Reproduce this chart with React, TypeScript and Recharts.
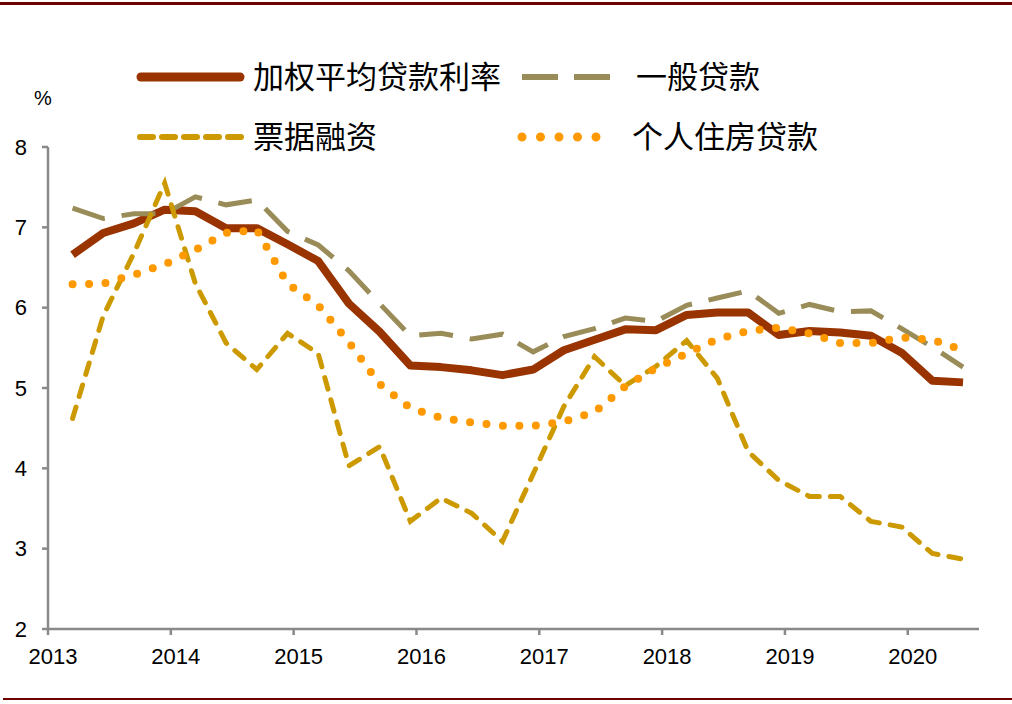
import React from 'react';
import { LineChart, Line, XAxis, YAxis } from 'recharts';

// quarterly observations, 2013Q1 – 2020Q2
const quarters = [
  '2013Q1', '2013Q2', '2013Q3', '2013Q4', '2014Q1', '2014Q2', '2014Q3', '2014Q4',
  '2015Q1', '2015Q2', '2015Q3', '2015Q4', '2016Q1', '2016Q2', '2016Q3', '2016Q4',
  '2017Q1', '2017Q2', '2017Q3', '2017Q4', '2018Q1', '2018Q2', '2018Q3', '2018Q4',
  '2019Q1', '2019Q2', '2019Q3', '2019Q4', '2020Q1', '2020Q2',
];

const weightedRate = [
  6.66, 6.93, 7.05, 7.22, 7.2, 6.99, 6.99, 6.79, 6.58, 6.05, 5.7, 5.28, 5.26, 5.22, 5.16,
  5.23, 5.47, 5.6, 5.73, 5.72, 5.91, 5.94, 5.94, 5.66, 5.71, 5.69, 5.65, 5.44, 5.09, 5.07,
];
const generalLoans = [
  7.24, 7.11, 7.17, 7.17, 7.38, 7.28, 7.34, 6.95, 6.78, 6.46, 6.05, 5.65, 5.68, 5.61, 5.67,
  5.45, 5.64, 5.74, 5.87, 5.83, 6.03, 6.12, 6.21, 5.93, 6.04, 5.95, 5.96, 5.74, 5.51, 5.26,
];
const billFinancing = [
  4.62, 5.9, 6.68, 7.55, 6.3, 5.56, 5.23, 5.68, 5.43, 4.03, 4.27, 3.34, 3.63, 3.44, 3.09,
  3.93, 4.77, 5.39, 5.03, 5.27, 5.59, 5.12, 4.21, 3.85, 3.65, 3.65, 3.34, 3.27, 2.94, 2.87,
];
const housingLoans = [
  6.29, 6.3, 6.41, 6.54, 6.72, 6.93, 6.97, 6.3, 6.03, 5.57, 5.05, 4.75, 4.63, 4.57, 4.53,
  4.53, 4.58, 4.7, 5.02, 5.25, 5.43, 5.61, 5.71, 5.75, 5.68, 5.56, 5.56, 5.63, 5.6, 5.47,
];

const yearTicks = [2013, 2014, 2015, 2016, 2017, 2018, 2019, 2020];
const valueTicks = [2, 3, 4, 5, 6, 7, 8];

const seriesNames = ['加权平均贷款利率', '一般贷款', '票据融资', '个人住房贷款'];

const BROWN = '#993300';
const OLIVE = '#9A8C58';
const GOLD = '#CC9A00';
const ORANGE = '#FF9900';
const AXIS = '#898989';
const RULE = '#6E0000';

const toYear = (q: string) => Number(q.slice(0, 4)) + (Number(q.slice(5)) - 1) * 0.25 + 0.2;

const data = quarters.map((q, i) => ({
  t: toYear(q),
  weighted: weightedRate[i],
  general: generalLoans[i],
  bill: billFinancing[i],
  housing: housingLoans[i],
}));

const numFont = '"Liberation Sans", Arial, sans-serif';
const cjkFont = '"Noto Sans CJK SC", sans-serif';

function XTick({ x, y, payload }: any) {
  return (
    <text x={x + 5} y={y} dy="0.71em" textAnchor="middle" fontSize={22} fontFamily={numFont} fill="#000">
      {payload.value}
    </text>
  );
}

function LegendBox() {
  const labelStyle = { fontSize: 31, fontFamily: cjkFont, fill: '#000' };
  return (
    <svg width={1012} height={170} style={{ position: 'absolute', left: 0, top: 0, pointerEvents: 'none' }}>
      <line x1={141} y1={77} x2={240} y2={77} stroke={BROWN} strokeWidth={9} strokeLinecap="round" />
      <text x={253} y={77} dy="0.36em" {...labelStyle}>{seriesNames[0]}</text>
      <line x1={522} y1={77} x2={612} y2={77} stroke={OLIVE} strokeWidth={6} strokeDasharray="36 16" />
      <text x={636} y={77} dy="0.36em" {...labelStyle}>{seriesNames[1]}</text>
      <line x1={140} y1={137} x2={242} y2={137} stroke={GOLD} strokeWidth={6} strokeDasharray="13 9" strokeLinecap="round" />
      <text x={253} y={137} dy="0.36em" {...labelStyle}>{seriesNames[2]}</text>
      <line x1={522} y1={137} x2={612} y2={137} stroke={ORANGE} strokeWidth={9} strokeDasharray="0 18.5" strokeLinecap="round" />
      <text x={632} y={137} dy="0.36em" {...labelStyle}>{seriesNames[3]}</text>
      <text x={43} y={98} dy="0.36em" textAnchor="middle" fontSize={20} fontFamily={numFont} fill="#000">%</text>
    </svg>
  );
}

export default function App() {
  return (
    <div style={{ position: 'absolute', left: 0, top: 0, width: 1012, height: 704, background: '#fff' }}>
      <div style={{ position: 'absolute', left: 0, top: 2, width: 1012, height: 3, background: RULE }} />
      <div style={{ position: 'absolute', left: 3, top: 698, width: 1009, height: 2, background: RULE }} />
      <LineChart width={1012} height={704} data={data} margin={{ top: 147, right: 33, bottom: 35, left: 0 }}>
        <XAxis
          dataKey="t"
          type="number"
          domain={[2013, 2020.58]}
          ticks={yearTicks}
          allowDataOverflow
          height={40}
          stroke={AXIS}
          strokeWidth={2.5}
          tickSize={6}
          tickMargin={13}
          tick={<XTick />}
        />
        <YAxis
          type="number"
          domain={[2, 8]}
          ticks={valueTicks}
          width={48}
          stroke={AXIS}
          strokeWidth={2.5}
          tickSize={6}
          tickMargin={15}
          tick={{ fontSize: 22, fontFamily: numFont, fill: '#000' }}
        />
        <Line dataKey="weighted" name={seriesNames[0]} stroke={BROWN} strokeWidth={8} dot={false} isAnimationActive={false} strokeLinejoin="round" />
        <Line dataKey="general" name={seriesNames[1]} stroke={OLIVE} strokeWidth={5} strokeDasharray="34 17" dot={false} isAnimationActive={false} />
        <Line dataKey="bill" name={seriesNames[2]} stroke={GOLD} strokeWidth={5} strokeDasharray="12 11" strokeLinecap="round" dot={false} isAnimationActive={false} />
        <Line dataKey="housing" name={seriesNames[3]} stroke={ORANGE} strokeWidth={8} strokeDasharray="0 16.5" strokeLinecap="round" dot={false} isAnimationActive={false} />
      </LineChart>
      <LegendBox />
    </div>
  );
}
